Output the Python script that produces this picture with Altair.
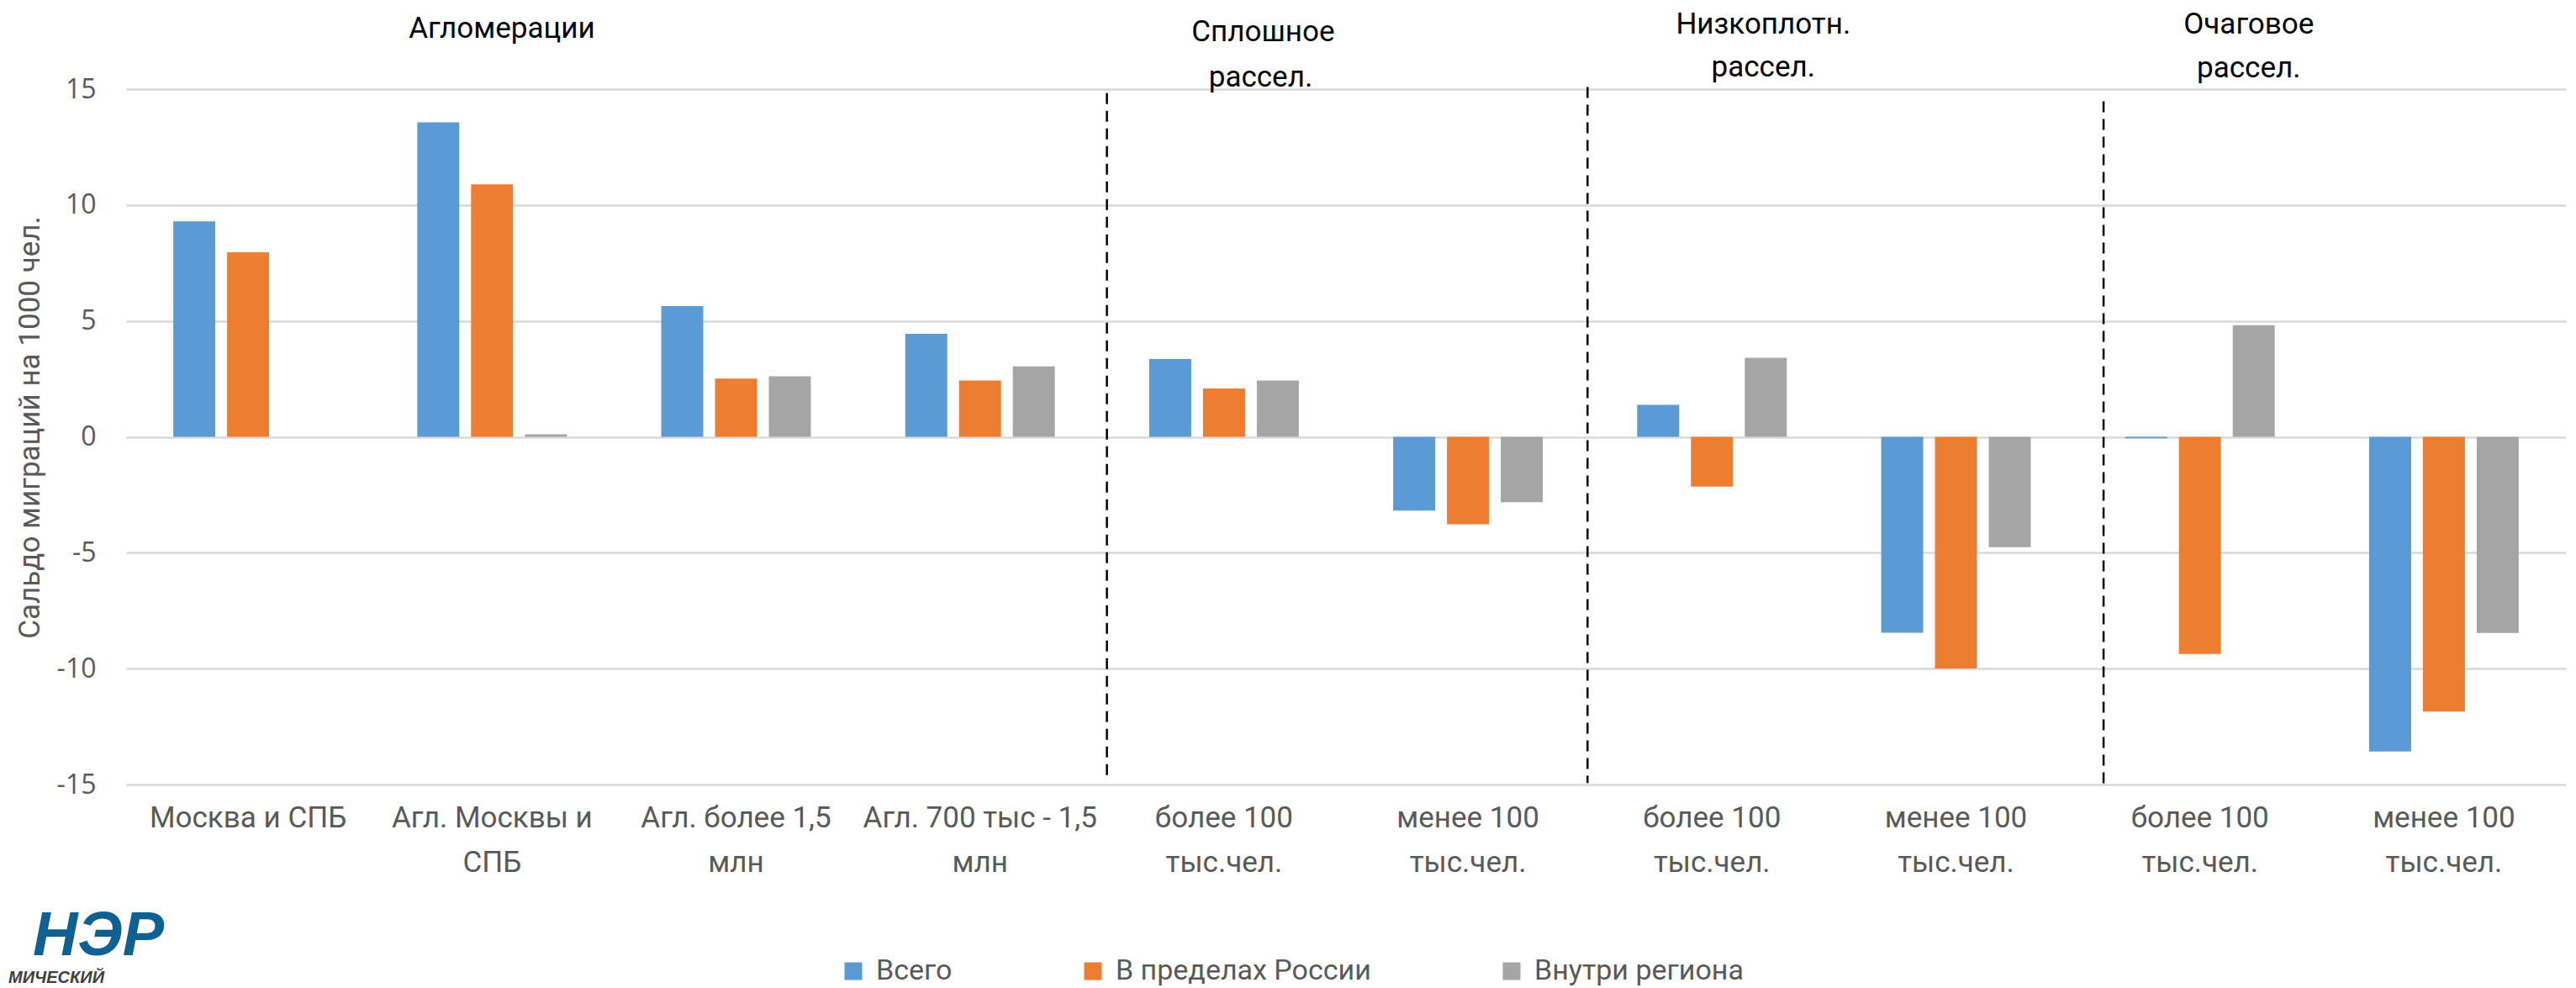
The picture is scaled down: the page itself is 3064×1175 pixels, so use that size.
import json
import altair as alt
import pandas as pd

# ---- data ----
categories = [
    "Москва и СПБ",
    "Агл. Москвы и|СПБ",
    "Агл. более 1,5|млн",
    "Агл. 700 тыс - 1,5|млн",
    "более 100|тыс.чел.",
    "менее 100|тыс.чел.",
    "более 100|тыс.чел.",
    "менее 100|тыс.чел.",
    "более 100|тыс.чел.",
    "менее 100|тыс.чел.",
]
series_names = ["Всего", "В пределах России", "Внутри региона"]
vsego = [9.30, 13.57, 5.64, 4.44, 3.36, -3.18, 1.38, -8.45, -0.06, -13.58]
v_rossii = [7.96, 10.89, 2.51, 2.43, 2.09, -3.77, -2.15, -9.99, -9.37, -11.85]
vnutri = [None, 0.11, 2.61, 3.04, 2.43, -2.82, 3.41, -4.76, 4.82, -8.46]
colors = ["#5b9bd5", "#ed7d31", "#a5a5a5"]

# group headers (position in category units, height in axis units)
header_text = ["Агломерации", "Сплошное", "рассел.", "Низкоплотн.", "рассел.", "Очаговое", "рассел."]
header_pos = [1.54, 4.66, 4.65, 6.71, 6.71, 8.70, 8.70]
header_lvl = [17.6, 17.45, 15.52, 17.81, 15.96, 17.81, 15.89]

# dashed separators between settlement groups
sep_pos = [4.02, 5.99, 8.105]
sep_top = [14.83, 15.09, 14.47]
sep_bot = [-14.87, -14.94, -15.0]

y_ticks = [-15, -10, -5, 0, 5, 10, 15]
y_title = "Сальдо миграций на 1000 чел."

# ---- tables ----
rows = []
for i in range(len(categories)):
    for s, vals in zip(series_names, [vsego, v_rossii, vnutri]):
        if vals[i] is not None:
            rows.append({"idx": i, "series": s, "value": vals[i]})
bars_df = pd.DataFrame(rows)
head_df = pd.DataFrame({"text": header_text, "pos": header_pos, "lvl": header_lvl})
sep_df = pd.DataFrame({"pos": sep_pos, "top": sep_top, "bot": sep_bot})

LABEL_FONT = "Roboto"
TXT = "#595959"
W, H = 2902, 827

yscale = alt.Scale(domain=[-15, 15], nice=False, zero=False)
yaxis = alt.Axis(
    values=y_ticks, grid=True, gridColor="#d9d9d9", gridWidth=2.5,
    domain=False, ticks=False, labelFont="Open Sans", labelFontSize=32,
    labelColor=TXT, labelPadding=36, labelExpr="toString(datum.value)",
    title=y_title, titleFont=LABEL_FONT,
    titleFontSize=35, titleFontWeight="normal", titleColor=TXT,
    titleAngle=270, titleX=-115, titleY=402, titleAlign="center",
    titleBaseline="middle",
)

label_expr = "split(" + json.dumps(categories, ensure_ascii=False) + "[datum.value], '|')"

bars = alt.Chart(bars_df).mark_bar().encode(
    x=alt.X("idx:O", scale=alt.Scale(paddingInner=0, paddingOuter=0),
            axis=alt.Axis(labelExpr=label_expr, labelAngle=0, domain=False,
                          ticks=False, grid=False, labelFont=LABEL_FONT,
                          labelFontSize=35, labelColor=TXT, labelPadding=22,
                          labelLineHeight=53, labelLimit=0, title=None)),
    xOffset=alt.XOffset("series:N", sort=series_names,
                        scale=alt.Scale(paddingInner=0.219, paddingOuter=0.877)),
    y=alt.Y("value:Q", scale=yscale, axis=yaxis),
    color=alt.Color("series:N", sort=series_names,
                    scale=alt.Scale(domain=series_names, range=colors),
                    legend=alt.Legend(title=None, orient="none", legendX=848,
                                      legendY=1032, direction="horizontal",
                                      columns=3, symbolType="square",
                                      symbolSize=441, symbolStrokeWidth=0,
                                      labelFont=LABEL_FONT, labelFontSize=34,
                                      labelColor=TXT, labelOffset=10,
                                      columnPadding=150, labelLimit=0)),
)

xlin = alt.X("pos:Q", scale=alt.Scale(domain=[0, 10], nice=False, zero=False), axis=None)

seps = alt.Chart(sep_df).mark_rule(color="black", strokeWidth=2.5,
                                   strokeDash=[13, 8]).encode(
    x=xlin,
    y=alt.Y("top:Q", scale=yscale, axis=yaxis),
    y2="bot:Q",
)

heads = alt.Chart(head_df).mark_text(font=LABEL_FONT, fontSize=35, color="black",
                                     baseline="middle", align="center").encode(
    x=xlin,
    y=alt.Y("lvl:Q", scale=yscale, axis=yaxis),
    text="text:N",
)

logo_df = pd.DataFrame({"t": ["НЭР"]})
logo = alt.Chart(logo_df).mark_text(font="Liberation Sans", fontSize=74,
                                    fontWeight="bold", fontStyle="italic",
                                    color="#0f6194", align="left",
                                    baseline="middle").encode(
    x=alt.value(-111), y=alt.value(1008), text="t:N")
logo2_df = pd.DataFrame({"t": ["МИЧЕСКИЙ"]})
logo2 = alt.Chart(logo2_df).mark_text(font="Liberation Sans", fontSize=20,
                                      fontWeight="bold", fontStyle="italic",
                                      color="#404040", align="left",
                                      baseline="middle").encode(
    x=alt.value(-140), y=alt.value(1057), text="t:N")

chart = alt.layer(bars, seps, heads, logo, logo2).resolve_scale(
    x="independent"
).properties(
    width=W, height=H,
    autosize=alt.AutoSizeParams(type="none"),
    padding={"left": 142, "top": 98, "right": 4, "bottom": 242},
).configure_view(stroke=None)

chart.save("out.html", embed_options={"renderer": "svg", "actions": False})
